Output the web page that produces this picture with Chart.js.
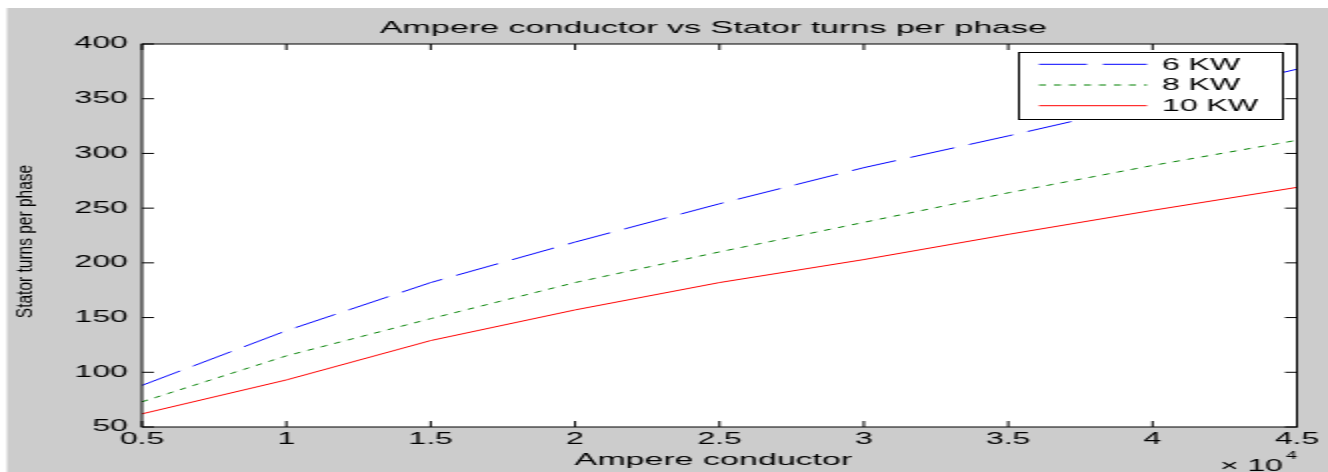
<!DOCTYPE html>
<html>
<head>
<meta charset="utf-8">
<script src="https://cdn.jsdelivr.net/npm/chart.js@4.4.1/dist/chart.umd.min.js"></script>
<style>
  html, body { margin: 0; padding: 0; background: #ffffff; overflow: hidden; }
  /* the source figure is a MATLAB plot stretched 2x sideways, so draw at half width and stretch */
  #chart { display: block; transform: scale(2, 1); transform-origin: 0 0; }
</style>
</head>
<body>
<canvas id="chart" width="664" height="472"></canvas>
<script>
const ampereConductor = [5000, 10000, 15000, 20000, 25000, 30000, 35000, 40000, 45000];
const turns6kw  = [88, 138, 182, 219, 254, 287, 316, 346, 377];
const turns8kw  = [73, 115, 149, 182, 210, 237, 264, 289, 312];
const turns10kw = [62, 93, 129, 157, 182, 203, 226, 248, 269];
const seriesLabels = ['6 KW', '8 KW', '10 KW'];
const yTicks = [50, 100, 150, 200, 250, 300, 350, 400];

const FONT = '"Liberation Sans", Arial, Helvetica, sans-serif';

const toPoints = (ys) => ampereConductor.map((x, i) => ({x: x, y: ys[i]}));

// background, frame, inward ticks, titles and boxed legend like MATLAB
const matlabLook = {
    id: 'matlabLook',
    beforeDraw(chart) {
        const ctx = chart.ctx;
        const a = chart.chartArea;
        ctx.save();
        ctx.fillStyle = '#ffffff';
        ctx.fillRect(0, 0, chart.width, chart.height);
        ctx.fillStyle = '#cccccc';
        ctx.fillRect(3.5, 8, chart.width - 3.5, chart.height - 8);
        ctx.fillStyle = '#ffffff';
        ctx.fillRect(a.left, a.top, a.right - a.left, a.bottom - a.top);
        ctx.restore();
    },
    afterDraw(chart) {
        const ctx = chart.ctx;
        const a = chart.chartArea;
        const xs = chart.scales.x;
        const ys = chart.scales.y;
        ctx.save();

        // legend box
        const lx = 509.5, ly = 52.5, lw = 132, lh = 67;
        ctx.fillStyle = '#ffffff';
        ctx.fillRect(lx, ly, lw, lh);
        ctx.strokeStyle = '#000000';
        ctx.lineWidth = 1;
        ctx.setLineDash([]);
        ctx.strokeRect(lx, ly, lw, lh);
        const rowY = [64.3, 85, 105.7];
        chart.data.datasets.forEach((ds, i) => {
            ctx.strokeStyle = ds.borderColor;
            ctx.lineWidth = 1;
            ctx.setLineDash(ds.borderDash || []);
            ctx.beginPath();
            ctx.moveTo(519.5, rowY[i]);
            ctx.lineTo(573.5, rowY[i]);
            ctx.stroke();
            ctx.setLineDash([]);
            ctx.fillStyle = '#000000';
            ctx.font = '16px ' + FONT;
            ctx.textAlign = 'left';
            ctx.textBaseline = 'middle';
            ctx.fillText(ds.label, 581, rowY[i] + 1);
        });

        // axes frame
        ctx.strokeStyle = '#000000';
        ctx.lineWidth = 1;
        ctx.setLineDash([]);
        ctx.strokeRect(a.left, a.top, a.right - a.left, a.bottom - a.top);

        // inward ticks on all four sides
        ctx.beginPath();
        xs.ticks.forEach(t => {
            const px = xs.getPixelForValue(t.value);
            ctx.moveTo(px, a.bottom);
            ctx.lineTo(px, a.bottom - 6);
            ctx.moveTo(px, a.top);
            ctx.lineTo(px, a.top + 6);
        });
        ys.ticks.forEach(t => {
            const py = ys.getPixelForValue(t.value);
            ctx.moveTo(a.left, py);
            ctx.lineTo(a.left + 6, py);
            ctx.moveTo(a.right, py);
            ctx.lineTo(a.right - 6, py);
        });
        ctx.stroke();

        ctx.fillStyle = '#000000';
        // title
        ctx.font = '17px ' + FONT;
        ctx.textAlign = 'center';
        ctx.textBaseline = 'alphabetic';
        ctx.fillText('Ampere conductor vs Stator turns per phase', (a.left + a.right) / 2 - 3, 33);
        // x axis title
        ctx.fillText('Ampere conductor', (a.left + a.right) / 2 - 3, 465);
        // exponent
        ctx.font = '16px ' + FONT;
        ctx.textAlign = 'right';
        ctx.fillText('\u00d7 10', 641.5, 471);
        ctx.font = '10px ' + FONT;
        ctx.textAlign = 'left';
        ctx.fillText('4', 643, 459);
        // y axis title
        ctx.translate(13, 241.5);
        ctx.scale(0.72, 1);
        ctx.rotate(-Math.PI / 2);
        ctx.font = '15.5px ' + FONT;
        ctx.textAlign = 'center';
        ctx.textBaseline = 'middle';
        ctx.fillText('Stator turns per phase', 0, 0);
        ctx.restore();
    }
};

const config = {
    type: 'line',
    data: {
        datasets: [
            {
                label: seriesLabels[0],
                data: toPoints(turns6kw),
                borderColor: '#0000ff',
                borderWidth: 1,
                borderDash: [24, 8],
                pointRadius: 0,
                tension: 0,
                fill: false
            },
            {
                label: seriesLabels[1],
                data: toPoints(turns8kw),
                borderColor: '#008000',
                borderWidth: 1,
                borderDash: [3.5, 4],
                pointRadius: 0,
                tension: 0,
                fill: false
            },
            {
                label: seriesLabels[2],
                data: toPoints(turns10kw),
                borderColor: '#ff0000',
                borderWidth: 1,
                pointRadius: 0,
                tension: 0,
                fill: false
            }
        ]
    },
    options: {
        responsive: false,
        animation: false,
        devicePixelRatio: 1,
        layout: {
            padding: {top: 44, right: 15.5, bottom: 0, left: 0}
        },
        plugins: {
            legend: {display: false},
            title: {display: false},
            tooltip: {enabled: false}
        },
        scales: {
            x: {
                type: 'linear',
                min: ampereConductor[0],
                max: ampereConductor[ampereConductor.length - 1],
                afterBuildTicks: (scale) => {
                    scale.ticks = ampereConductor.map(v => ({value: v}));
                },
                afterFit: (scale) => {
                    scale.height = 45;
                },
                ticks: {
                    callback: (v) => v / 10000,
                    autoSkip: false,
                    maxRotation: 0,
                    color: '#000000',
                    padding: 3,
                    font: {family: FONT, size: 16}
                },
                grid: {display: false, drawTicks: false},
                border: {display: false}
            },
            y: {
                min: yTicks[0],
                max: yTicks[yTicks.length - 1],
                afterBuildTicks: (scale) => {
                    scale.ticks = yTicks.map(v => ({value: v}));
                },
                afterFit: (scale) => {
                    scale.width = 71;
                },
                ticks: {
                    color: '#000000',
                    padding: 7,
                    font: {family: FONT, size: 16}
                },
                grid: {display: false, drawTicks: false},
                border: {display: false}
            }
        }
    },
    plugins: [matlabLook]
};

new Chart(document.getElementById('chart').getContext('2d'), config);
</script>
</body>
</html>
